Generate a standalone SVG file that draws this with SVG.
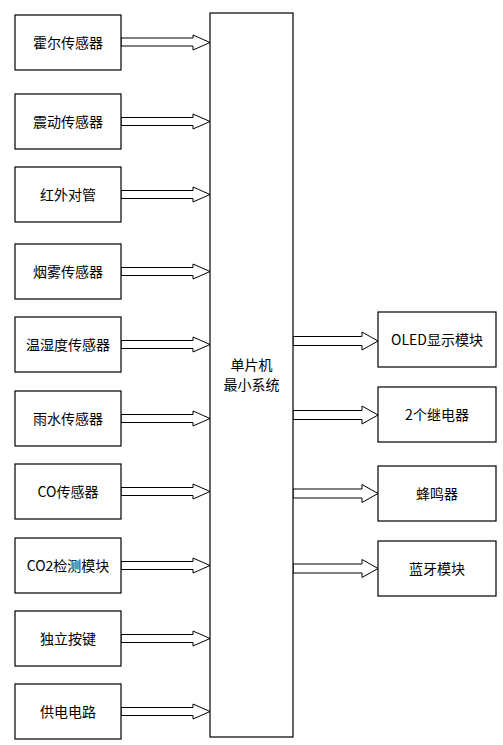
<svg xmlns="http://www.w3.org/2000/svg" width="503" height="745" viewBox="0 0 503 745">
<style>
.box{fill:#fff;stroke:#000;stroke-width:1.2}
.arr{fill:#fff;stroke:#000;stroke-width:1}
text{font-family:"Noto Sans CJK SC","Liberation Sans",sans-serif;font-size:14px;fill:#000;text-anchor:middle}
</style>
<rect width="503" height="745" fill="#fff"/>
<g id="connectors">
<polygon class="arr" points="121,38 193,38 193,35 210,42.5 193,50 193,46 121,46"/>
<polygon class="arr" points="121,117.5 193,117.5 193,114 210,121.5 193,129 193,125.5 121,125.5"/>
<polygon class="arr" points="121,190.5 193,190.5 193,187 210,194.5 193,202 193,198.5 121,198.5"/>
<polygon class="arr" points="121,267.5 193,267.5 193,264 210,271.5 193,279 193,275.5 121,275.5"/>
<polygon class="arr" points="121,340.5 193,340.5 193,337 210,344.5 193,352 193,348.5 121,348.5"/>
<polygon class="arr" points="121,414.5 193,414.5 193,411 210,418.5 193,426 193,422.5 121,422.5"/>
<polygon class="arr" points="121,487.5 193,487.5 193,484 210,491.5 193,499 193,495.5 121,495.5"/>
<polygon class="arr" points="121,561.5 193,561.5 193,558 210,565.5 193,573 193,569.5 121,569.5"/>
<polygon class="arr" points="121,634.5 193,634.5 193,631 210,638.5 193,646 193,642.5 121,642.5"/>
<polygon class="arr" points="121,707.5 193,707.5 193,704 210,711.5 193,719 193,715.5 121,715.5"/>
<polygon class="arr" points="293,336.5 362,336.5 362,332 378,341 362,350 362,345.5 293,345.5"/>
<polygon class="arr" points="293,410.5 362,410.5 362,406 378,415 362,424 362,419.5 293,419.5"/>
<polygon class="arr" points="293,489 362,489 362,484.5 378,493.5 362,502.5 362,498 293,498"/>
<polygon class="arr" points="293,564 362,564 362,559.5 378,568.5 362,577.5 362,573 293,573"/>
</g>
<g id="mcu"><rect class="box" x="210" y="13" width="83" height="724"/><text x="251.5" y="370">单片机</text><text x="251.5" y="390">最小系统</text></g>
<g id="n1"><rect class="box" x="15" y="15" width="106" height="55"/><text x="68" y="47.5">霍尔传感器</text></g>
<g id="n2"><rect class="box" x="15" y="94" width="106" height="55"/><text x="68" y="126.5">震动传感器</text></g>
<g id="n3"><rect class="box" x="15" y="167" width="106" height="55"/><text x="68" y="199.5">红外对管</text></g>
<g id="n4"><rect class="box" x="15" y="244" width="106" height="55"/><text x="68" y="276.5">烟雾传感器</text></g>
<g id="n5"><rect class="box" x="15" y="317" width="106" height="55"/><text x="68" y="349.5">温湿度传感器</text></g>
<g id="n6"><rect class="box" x="15" y="391" width="106" height="55"/><text x="68" y="423.5">雨水传感器</text></g>
<g id="n7"><rect class="box" x="15" y="464" width="106" height="55"/><text x="68" y="496.5">CO传感器</text></g>
<g id="n8"><rect class="box" x="15" y="538" width="106" height="55"/><text x="68" y="570.5">CO2检测模块</text></g>
<g id="n9"><rect class="box" x="15" y="611" width="106" height="55"/><text x="68" y="643.5">独立按键</text></g>
<g id="n10"><rect class="box" x="15" y="684" width="106" height="55"/><text x="68" y="716.5">供电电路</text></g>
<g id="r1"><rect class="box" x="378" y="312" width="118" height="55"/><text x="437" y="344.5">OLED显示模块</text></g>
<g id="r2"><rect class="box" x="378" y="387" width="118" height="55"/><text x="437" y="419.5">2个继电器</text></g>
<g id="r3"><rect class="box" x="378" y="466" width="118" height="55"/><text x="437" y="498.5">蜂鸣器</text></g>
<g id="r4"><rect class="box" x="378" y="541" width="118" height="55"/><text x="437" y="573.5">蓝牙模块</text></g>
</svg>
